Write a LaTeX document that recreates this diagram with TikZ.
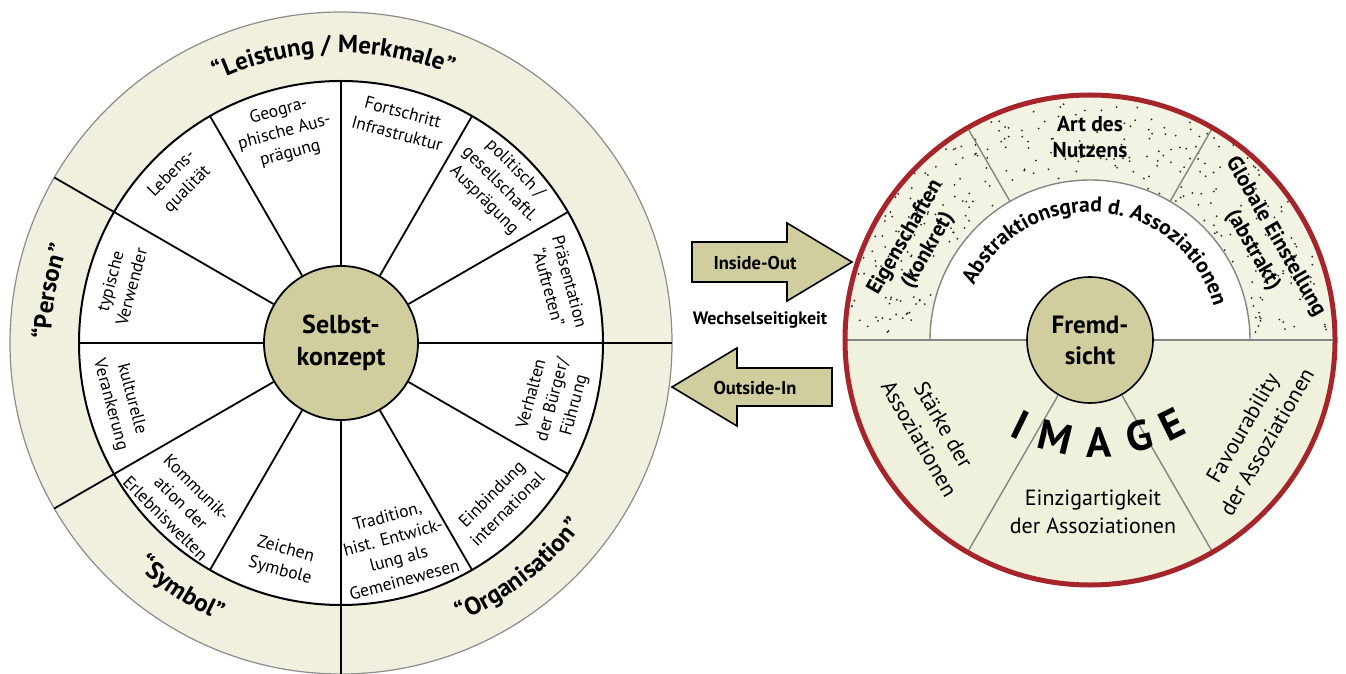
\documentclass[tikz,border=0pt]{standalone}
\usepackage{fontspec}
\setmainfont{PT Sans}
\usetikzlibrary{decorations.text}

\definecolor{ringbeige}{HTML}{F1F0DF}
\definecolor{khaki}{HTML}{D0CD9E}
\definecolor{lowbeige}{HTML}{EFF1DC}
\definecolor{dotbeige}{HTML}{F2F3E2}
\definecolor{rimred}{HTML}{A5252A}
\definecolor{divgray}{HTML}{858585}

\newcommand\ringlabelfont{\bfseries\fontsize{25}{30}\selectfont}
\newcommand\arclabelfont{\bfseries\fontsize{21.5}{26}\selectfont}

\begin{document}
\begin{tikzpicture}[x=1pt,y=1pt,
  sector/.style={font=\fontsize{17.5}{22}\selectfont, align=center, inner sep=0pt},
  plaintext/.style={font=\fontsize{22}{28}\selectfont, align=center, inner sep=0pt},
  boldtext/.style={font=\bfseries\fontsize{21.5}{26}\selectfont, align=center, inner sep=0pt},
  hub/.style={circle, draw=black, line width=1.8pt, fill=khaki, inner sep=0pt, align=center},
  spoke/.style={line width=1.8pt},
  divider/.style={draw=divgray, line width=1.4pt},
  bigarrow/.style={draw=black, line width=1.6pt, fill=khaki, line join=miter},
  arrowtext/.style={font=\bfseries\fontsize{18.5}{22}\selectfont, inner sep=0pt},
  imgletter/.style={font=\bfseries\fontsize{42}{42}\selectfont, inner sep=0pt},
]
\useasboundingbox (0,0) rectangle (1346,673);
\fill[white] (0,0) rectangle (1346,673);

% ---------------- Selbstkonzept wheel ----------------
\begin{scope}[shift={(341,330)}]
  \draw[fill=ringbeige, draw=gray!90, line width=1.2pt] (0,0) circle (331);
  \draw[fill=white, line width=2pt] (0,0) circle (262);
  \foreach \a in {150,210,270,360} \draw[spoke] (\a:262) -- (\a:331);
  \node[hub, minimum size=154pt, font=\bfseries\fontsize{26}{32}\selectfont] (selbst) at (0,0) {Selbst-\\konzept};
  \foreach \a in {0,30,...,330} \draw[spoke] (selbst.\a) -- (\a:262);

  % sector labels
  \node[sector, rotate=45]  (lq)  at (135:228) {Lebens-\\qualität};
  \node[sector, rotate=15]  (geo) at (105:218) {Geogra-\\phische Aus-\\prägung};
  \node[sector, rotate=-15] (fi)  at (75:228)  {Fortschritt\\Infrastruktur};
  \node[sector, rotate=-45] (pol) at (45:224)  {politisch /\\gesellschaftl.\\Ausprägung};
  \node[sector, rotate=-75] (pra) at (15:226)  {Präsentation\\“Auftreten”};
  \node[sector, rotate=75]  (vh)  at (-15:220) {Verhalten\\der Bürger/\\Führung};
  \node[sector, rotate=45]  (ein) at (-45:224) {Einbindung\\international};
  \node[sector, rotate=15]  (tra) at (-75:212) {Tradition,\\hist. Entwick-\\lung als\\Gemeinewesen};
  \node[sector, rotate=-15] (zs)  at (-105:225) {Zeichen\\Symbole};
  \node[sector, rotate=-45] (kom) at (-135:226) {Kommunik-\\ation der\\Erlebniswelten};
  \node[sector, rotate=-75] (kul) at (-165:228) {kulturelle\\Verankerung};
  \node[sector, rotate=75]  (typ) at (165:228) {typische\\Verwender};

  % ring labels along the outer band
  \path[decorate, decoration={text along path, text align=center,
      text={|\ringlabelfont|“Leistung / Merkmale”}}]
    (150:290) arc[start angle=150, end angle=33, radius=290];
  \path[decorate, decoration={text along path, text align=center,
      text={|\ringlabelfont|“Person”}}]
    (205:290) arc[start angle=205, end angle=135, radius=290];
  \path[decorate, decoration={text along path, text align=center,
      text={|\ringlabelfont|“Symbol”}}]
    (207:303) arc[start angle=207, end angle=267, radius=303];
  \path[decorate, decoration={text along path, text align=center,
      text={|\ringlabelfont|“Organisation”}}]
    (270:303) arc[start angle=270, end angle=346, radius=303];
\end{scope}

% ---------------- arrows between the wheels ----------------
\draw[bigarrow] (692,391) -- (692,431) -- (787,431) -- (787,450) -- (852,411)
  -- (787,372) -- (787,391) -- cycle;
\node[arrowtext] (inout) at (755,410) {Inside-Out};
\node[font=\bfseries\fontsize{18}{22}\selectfont, inner sep=0pt] (wechsel) at (760,353) {Wechselseitigkeit};
\draw[bigarrow] (832,267) -- (832,305) -- (737,305) -- (737,325) -- (672,286)
  -- (737,247) -- (737,267) -- cycle;
\node[arrowtext] (outin) at (755,285) {Outside-In};

% ---------------- Fremdsicht / Image circle ----------------
\begin{scope}[shift={(1090,333)}]
  \fill[lowbeige] (180:245) arc[start angle=180, end angle=360, radius=245] -- cycle;
  \fill[dotbeige] (0:245) arc[start angle=0, end angle=180, radius=245]
    -- (180:160) arc[start angle=180, end angle=0, radius=160] -- cycle;
  % stippled band
  \pgfmathsetseed{4711}
  \foreach \i in {1,...,320} {
    \pgfmathsetmacro\da{2+rnd*176}
    \pgfmathsetmacro\dr{10*sqrt(rnd*323.6+262)}
    \fill[black!85] (\da:\dr) circle (1.0);
  }
  \draw[divider, fill=white] (0:160) arc[start angle=0, end angle=180, radius=160] -- cycle;
  \foreach \a in {60,120} \draw[divider] (\a:160) -- (\a:245);
  \draw[divider] (180:245) -- (0:245);
  \node[hub, minimum size=126pt, line width=1.6pt, font=\bfseries\fontsize{25}{31}\selectfont] (fremd) at (0,0) {Fremd-\\sicht};
  \foreach \a in {240,300} \draw[divider] (fremd.\a) -- (\a:245);
  \draw[rimred, line width=5pt] (0,0) circle (245);

  \node[boldtext] (nutzen) at (90:203) {Art des\\Nutzens};
  \node[boldtext, rotate=60] (eigen) at (151:198) {Eigenschaften\\(konkret)};
  \node[boldtext, rotate=-60] (global) at (29:199) {Globale Einstellung\\(abstrakt)};
  \path[decorate, decoration={text along path, text align=center,
      text={|\arclabelfont|Abstraktionsgrad d. Assoziationen}}]
    (174:128) arc[start angle=174, end angle=-4, radius=128];

  \node[plaintext, rotate=-60] (staerke) at (210:183) {Stärke der\\Assoziationen};
  \node[plaintext, rotate=60] (favour) at (330:190) {Favourability\\der Assoziationen};
  \node[plaintext] (einzig) at (3,-172) {Einzigartigkeit\\der Assoziationen};
\end{scope}

% IMAGE lettering on a gentle arc
\coordinate (imgc) at (1096,403);
\node[imgletter, rotate=-26]  (imgI) at ([shift={(-116:172)}]imgc) {I};
\node[imgletter, rotate=-13.7] (imgM) at ([shift={(-103.7:172)}]imgc) {M};
\node[imgletter, rotate=1]    (imgA) at ([shift={(-89:172)}]imgc) {A};
\node[imgletter, rotate=14.5] (imgG) at ([shift={(-75.5:172)}]imgc) {G};
\node[imgletter, rotate=26.3] (imgE) at ([shift={(-63.7:172)}]imgc) {E};
\end{tikzpicture}
\end{document}
